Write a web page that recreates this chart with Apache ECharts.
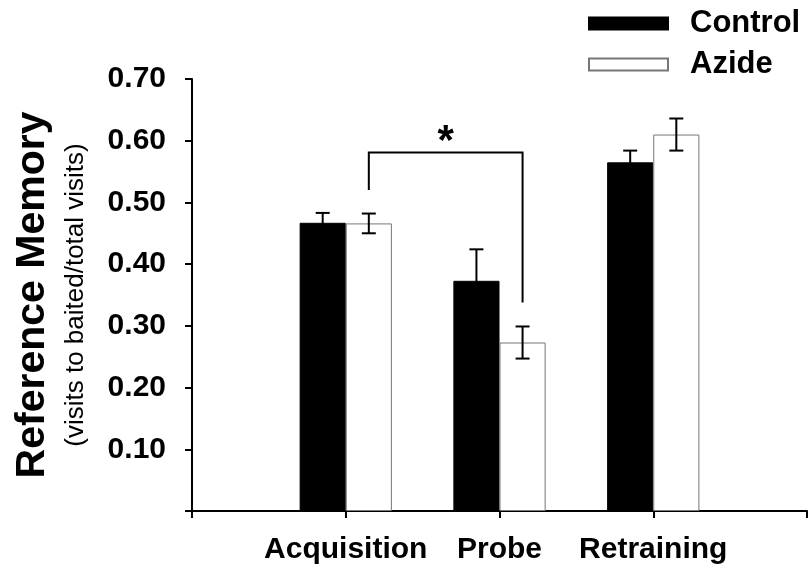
<!DOCTYPE html>
<html>
<head>
<meta charset="utf-8">
<script src="https://cdn.jsdelivr.net/npm/echarts@6/dist/echarts.min.js"></script>
<style>html,body{margin:0;padding:0;background:#fff;}#chart{width:811px;height:572px;}</style>
</head>
<body>
<div id="chart"></div>
<script>
// ---- data ----
const categories = ['', 'Acquisition', 'Probe', 'Retraining', ''];
const seriesNames = ['Control', 'Azide'];
const controlValues = [null, 0.467, 0.373, 0.565, null];
const azideValues = [null, 0.466, 0.273, 0.610, null];
const controlErrors = [null, 0.016, 0.051, 0.019, null];
const azideErrors = [null, 0.016, 0.026, 0.026, null];
const yTicks = [0, 0.1, 0.2, 0.3, 0.4, 0.5, 0.6, 0.7];
// significance bracket: from Azide/Acquisition to Azide/Probe
const bracketCats = [1, 2];
const bracketEnds = [0.520, 0.338];
const bracketTop = 0.581;
const bracketLabel = '*';

const FONT = '"Liberation Sans", Arial, sans-serif';
const BAR_FRAC = 0.30;

function errData(vals, errs) {
  const out = [];
  vals.forEach((v, i) => { if (v != null) out.push([i, v, errs[i]]); });
  return out;
}

function errRender(side) {
  return function (params, api) {
    const bw = api.size([1, 0])[0];
    const ci = api.value(0), v = api.value(1), e = api.value(2);
    const x = api.coord([ci, v])[0] + side * bw * BAR_FRAC / 2;
    const yt = api.coord([ci, v + e])[1];
    const yb = api.coord([ci, v - e])[1];
    const cap = 7;
    const st = { stroke: '#000', lineWidth: 2 };
    return {
      type: 'group',
      children: [
        { type: 'line', shape: { x1: x, y1: yt, x2: x, y2: yb }, style: st },
        { type: 'line', shape: { x1: x - cap, y1: yt, x2: x + cap, y2: yt }, style: st },
        { type: 'line', shape: { x1: x - cap, y1: yb, x2: x + cap, y2: yb }, style: st }
      ]
    };
  };
}

const chart = echarts.init(document.getElementById('chart'), null, { renderer: 'canvas' });
chart.setOption({
  animation: false,
  backgroundColor: '#fff',
  grid: { left: 192, right: 4, top: 79, bottom: 61, containLabel: false },
  legend: {
    data: seriesNames,
    orient: 'vertical',
    left: 588, top: 8, padding: 0,
    itemWidth: 79, itemHeight: 12, itemGap: 10,
    icon: 'rect',
    textStyle: { fontFamily: FONT, fontWeight: 'bold', fontSize: 31, color: '#000', padding: [0, 0, 0, 17] }
  },
  xAxis: {
    type: 'category',
    data: categories,
    boundaryGap: false,
    axisLine: { lineStyle: { color: '#000', width: 2 } },
    axisTick: { show: true, length: 7, lineStyle: { color: '#000', width: 2 }, interval: 0 },
    axisLabel: { interval: 0, margin: 24, fontFamily: FONT, fontWeight: 'bold', fontSize: 30, color: '#000' },
    splitLine: { show: false }
  },
  yAxis: {
    type: 'value',
    min: yTicks[0], max: yTicks[yTicks.length - 1], interval: 0.1,
    axisLine: { show: true, lineStyle: { color: '#000', width: 2 } },
    axisTick: { show: true, length: 7, lineStyle: { color: '#000', width: 2 } },
    axisLabel: {
      margin: 26, fontFamily: FONT, fontWeight: 'bold', fontSize: 30, color: '#000',
      formatter: v => (v === 0 ? '' : v.toFixed(2))
    },
    splitLine: { show: false },
    name: '{a|Reference Memory}\n{b|(visits to baited/total visits)}',
    nameLocation: 'middle',
    nameGap: 99,
    nameRotate: 90,
    nameTextStyle: {
      rich: {
        a: { fontFamily: FONT, fontWeight: 'bold', fontSize: 41, color: '#000', lineHeight: 52 },
        b: { fontFamily: FONT, fontSize: 26, color: '#000', lineHeight: 34 }
      }
    }
  },
  series: [
    {
      name: 'Control', type: 'bar', data: controlValues,
      barWidth: (BAR_FRAC * 100) + '%', barGap: '0%',
      itemStyle: { color: '#000', borderColor: '#000', borderWidth: 1 }
    },
    {
      name: 'Azide', type: 'bar', data: azideValues,
      barWidth: (BAR_FRAC * 100) + '%', barGap: '0%',
      itemStyle: { color: '#fff', borderColor: '#777', borderWidth: 1 }
    },
    {
      type: 'custom', name: 'errC', data: errData(controlValues, controlErrors),
      renderItem: errRender(-1), z: 5, encode: { x: 0, y: 1 }, silent: true
    },
    {
      type: 'custom', name: 'errA', data: errData(azideValues, azideErrors),
      renderItem: errRender(1), z: 5, encode: { x: 0, y: 1 }, silent: true
    },
    {
      type: 'custom', name: 'sig',
      data: [[bracketCats[0], bracketEnds[0], bracketCats[1], bracketEnds[1], bracketTop]],
      encode: { x: 0, y: 1 }, z: 6, silent: true,
      renderItem: function (params, api) {
        const bw = api.size([1, 0])[0];
        const off = bw * BAR_FRAC / 2;
        const x1 = api.coord([api.value(0), 0])[0] + off;
        const x2 = api.coord([api.value(2), 0])[0] + off;
        const y1 = api.coord([0, api.value(1)])[1];
        const y2 = api.coord([0, api.value(3)])[1];
        const yt = api.coord([0, api.value(4)])[1];
        return {
          type: 'group',
          children: [
            { type: 'polyline', shape: { points: [[x1, y1], [x1, yt], [x2, yt], [x2, y2]] },
              style: { stroke: '#000', lineWidth: 2, fill: null } },
            { type: 'text', x: (x1 + x2) / 2, y: yt - 10,
              style: { text: bracketLabel, fontFamily: FONT, fontWeight: 'bold', fontSize: 42,
                       fill: '#000', align: 'center', verticalAlign: 'middle' } }
          ]
        };
      }
    }
  ]
});
</script>
</body>
</html>
